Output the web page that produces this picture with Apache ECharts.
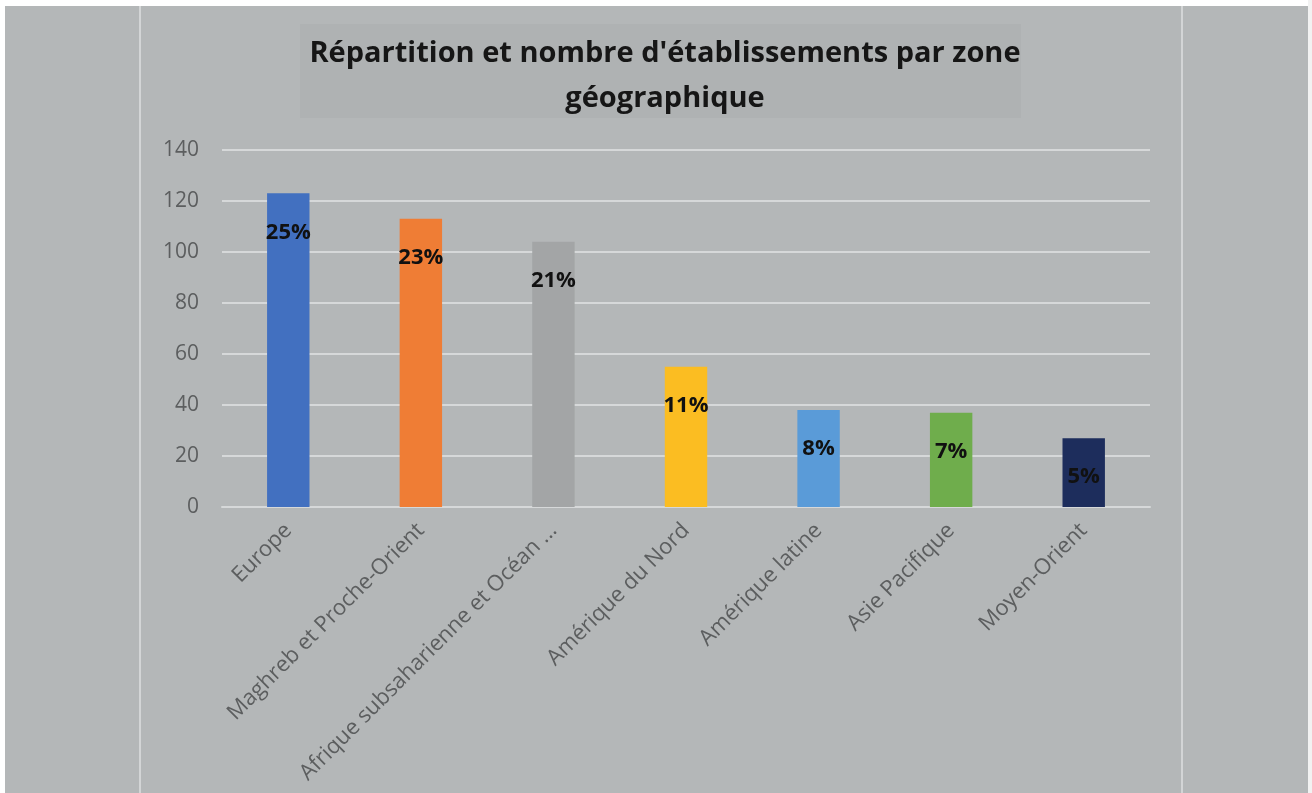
<!DOCTYPE html>
<html>
<head>
<meta charset="utf-8">
<script src="https://cdn.jsdelivr.net/npm/echarts@6/dist/echarts.min.js"></script>
<style>
html,body{margin:0;padding:0;background:#b4b7b8;}
#c{width:1312px;height:793px;}
</style>
</head>
<body>
<div id="c"></div>
<script>
const categories = ["Europe","Maghreb et Proche-Orient","Afrique subsaharienne et Océan ...","Amérique du Nord","Amérique latine","Asie Pacifique","Moyen-Orient"];
const values = [123,113,104,55,38,37,27];
const percentLabels = ["25%","23%","21%","11%","8%","7%","5%"];
const barColors = ["#4270c0","#ef7d35","#a3a5a6","#fbbd22","#5a9bd8","#6fad4c","#1d2d5c"];
const yTicks = [0,20,40,60,80,100,120,140];

const chart = echarts.init(document.getElementById('c'), null, {renderer:'canvas'});
chart.setOption({
  backgroundColor:'#b4b7b8',
  animation:false,
  graphic:[
    {type:'rect', shape:{x:0,y:0,width:1312,height:6}, style:{fill:'#ffffff'}, z:-10},
    {type:'rect', shape:{x:0,y:0,width:5,height:793}, style:{fill:'#ffffff'}, z:-10},
    {type:'rect', shape:{x:1308,y:0,width:4,height:793}, style:{fill:'#f2f2f2'}, z:-10},
    {type:'rect', shape:{x:139,y:6,width:2,height:787}, style:{fill:'#d3d5d6'}, z:-10},
    {type:'rect', shape:{x:1181,y:6,width:2,height:787}, style:{fill:'#d3d5d6'}, z:-10},
    {type:'rect', shape:{x:300,y:24,width:721,height:94}, style:{fill:'#afb2b3'}, z:-9}
  ],
  title:{
    text:"Répartition et nombre d'établissements par zone\ngéographique",
    left:660, top:26, textAlign:'center',
    textStyle:{fontFamily:'Open Sans', fontWeight:'bold', fontSize:29, color:'#161616', lineHeight:45}
  },
  grid:{left:222, right:162, top:150, bottom:286, containLabel:false},
  xAxis:{
    type:'category', data:categories,
    axisLine:{show:true, lineStyle:{color:'#d6d8d9', width:2}},
    axisTick:{show:false},
    axisLabel:{rotate:45, interval:0, color:'#5c5e5f', fontFamily:'Open Sans', fontSize:22, margin:20}
  },
  yAxis:{
    type:'value', min:0, max:140, interval:20,
    axisLine:{show:false}, axisTick:{show:false},
    splitLine:{lineStyle:{color:'#d6d8d9', width:2}},
    axisLabel:{color:'#5c5e5f', fontFamily:'Open Sans', fontSize:21, margin:23,
      formatter:function(v){return yTicks.indexOf(v)>=0 ? String(v) : '';}}
  },
  series:[{
    type:'bar', barWidth:'32%',
    data:values.map((v,i)=>({value:v, itemStyle:{color:barColors[i]}})),
    label:{show:true, position:'insideTop', distance:28,
      formatter:function(p){return percentLabels[p.dataIndex];},
      fontFamily:'Open Sans', fontWeight:'bold', fontSize:22, color:'#111'}
  }]
});
</script>
</body>
</html>
